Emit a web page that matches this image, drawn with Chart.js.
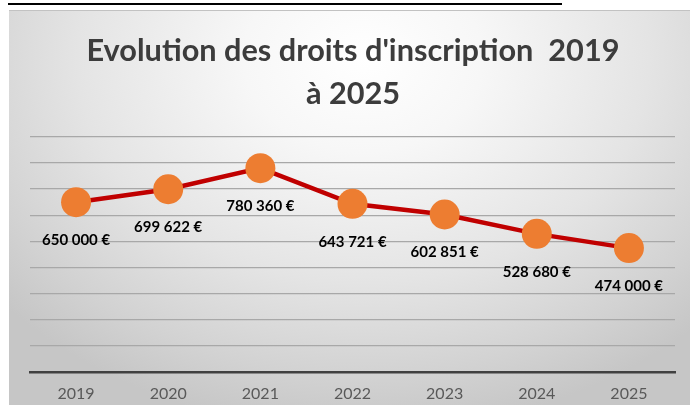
<!DOCTYPE html>
<html>
<head>
<meta charset="utf-8">
<script src="https://cdn.jsdelivr.net/npm/chart.js@4.4.1/dist/chart.umd.min.js"></script>
<style>
  html, body { margin: 0; padding: 0; background: #ffffff; }
  body { width: 690px; height: 405px; position: relative; overflow: hidden; }
  #topline { position: absolute; left: 8px; top: 3px; width: 554px; height: 2px; background: #000; }
  #box {
    position: absolute; left: 9px; top: 10px; width: 681px; height: 395px;
    background: radial-gradient(ellipse 70% 95% at 52% 12%, #ffffff 0%, #f7f7f7 25%, #e4e4e4 60%, #d2d2d2 85%, #c6c6c6 100%);
    border-top: 1px solid #c2c2c2;
    box-sizing: border-box;
  }
  canvas { display: block; }
</style>
</head>
<body>
<div id="topline"></div>
<div id="box"><canvas id="c"></canvas></div>
<script>
const years = ['2019', '2020', '2021', '2022', '2023', '2024', '2025'];
const fees = [650000, 699622, 780360, 643721, 602851, 528680, 474000];
const titleLines = ["Evolution des droits d'inscription  2019", "à 2025"];
const yMin = 0, yMax = 900000, yStep = 100000;

function euro(v) {
  return v.toLocaleString('fr-FR').replace(/[\u202f\u00a0]/g, ' ') + ' €';
}

const labelPlugin = {
  id: 'pointLabels',
  afterDatasetsDraw(chart) {
    const ctx = chart.ctx;
    const meta = chart.getDatasetMeta(0);
    ctx.save();
    ctx.font = 'bold 15px Lato, "Liberation Sans", sans-serif';
    ctx.fillStyle = '#000000';
    ctx.textAlign = 'center';
    ctx.textBaseline = 'middle';
    meta.data.forEach((pt, i) => {
      ctx.fillText(euro(fees[i]), pt.x, pt.y + 38);
    });
    ctx.restore();
  }
};

new Chart(document.getElementById('c'), {
  type: 'line',
  data: {
    labels: years,
    datasets: [{
      data: fees,
      borderColor: '#c00000',
      borderWidth: 4.5,
      pointRadius: 15,
      pointHoverRadius: 15,
      pointBackgroundColor: '#ed7d31',
      pointBorderColor: '#ed7d31',
      pointBorderWidth: 0,
      tension: 0
    }]
  },
  options: {
    responsive: true,
    maintainAspectRatio: false,
    animation: false,
    events: [],
    layout: { padding: { left: 21, right: 14, top: 0, bottom: -10 } },
    plugins: {
      legend: { display: false },
      tooltip: { enabled: false },
      title: {
        display: true,
        text: titleLines,
        color: '#3c3c3c',
        font: { family: 'Lato, "Liberation Sans", sans-serif', size: 30.7, weight: 'bold', lineHeight: 1.4 },
        padding: { top: 19, bottom: 21 }
      }
    },
    scales: {
      x: {
        offset: true,
        grid: { display: false, drawTicks: false },
        border: { display: true, color: '#404040', width: 2.5 },
        ticks: { color: '#595959', font: { family: 'Lato, "Liberation Sans", sans-serif', size: 16 }, padding: 12 }
      },
      y: {
        min: yMin, max: yMax,
        ticks: { display: false, stepSize: yStep },
        grid: {
          drawTicks: false,
          color: (c) => c.tick && c.tick.value === 0 ? 'rgba(0,0,0,0)' : '#a8a8a8',
          lineWidth: 1.3
        },
        border: { display: false }
      }
    }
  },
  plugins: [labelPlugin]
});
</script>
</body>
</html>
